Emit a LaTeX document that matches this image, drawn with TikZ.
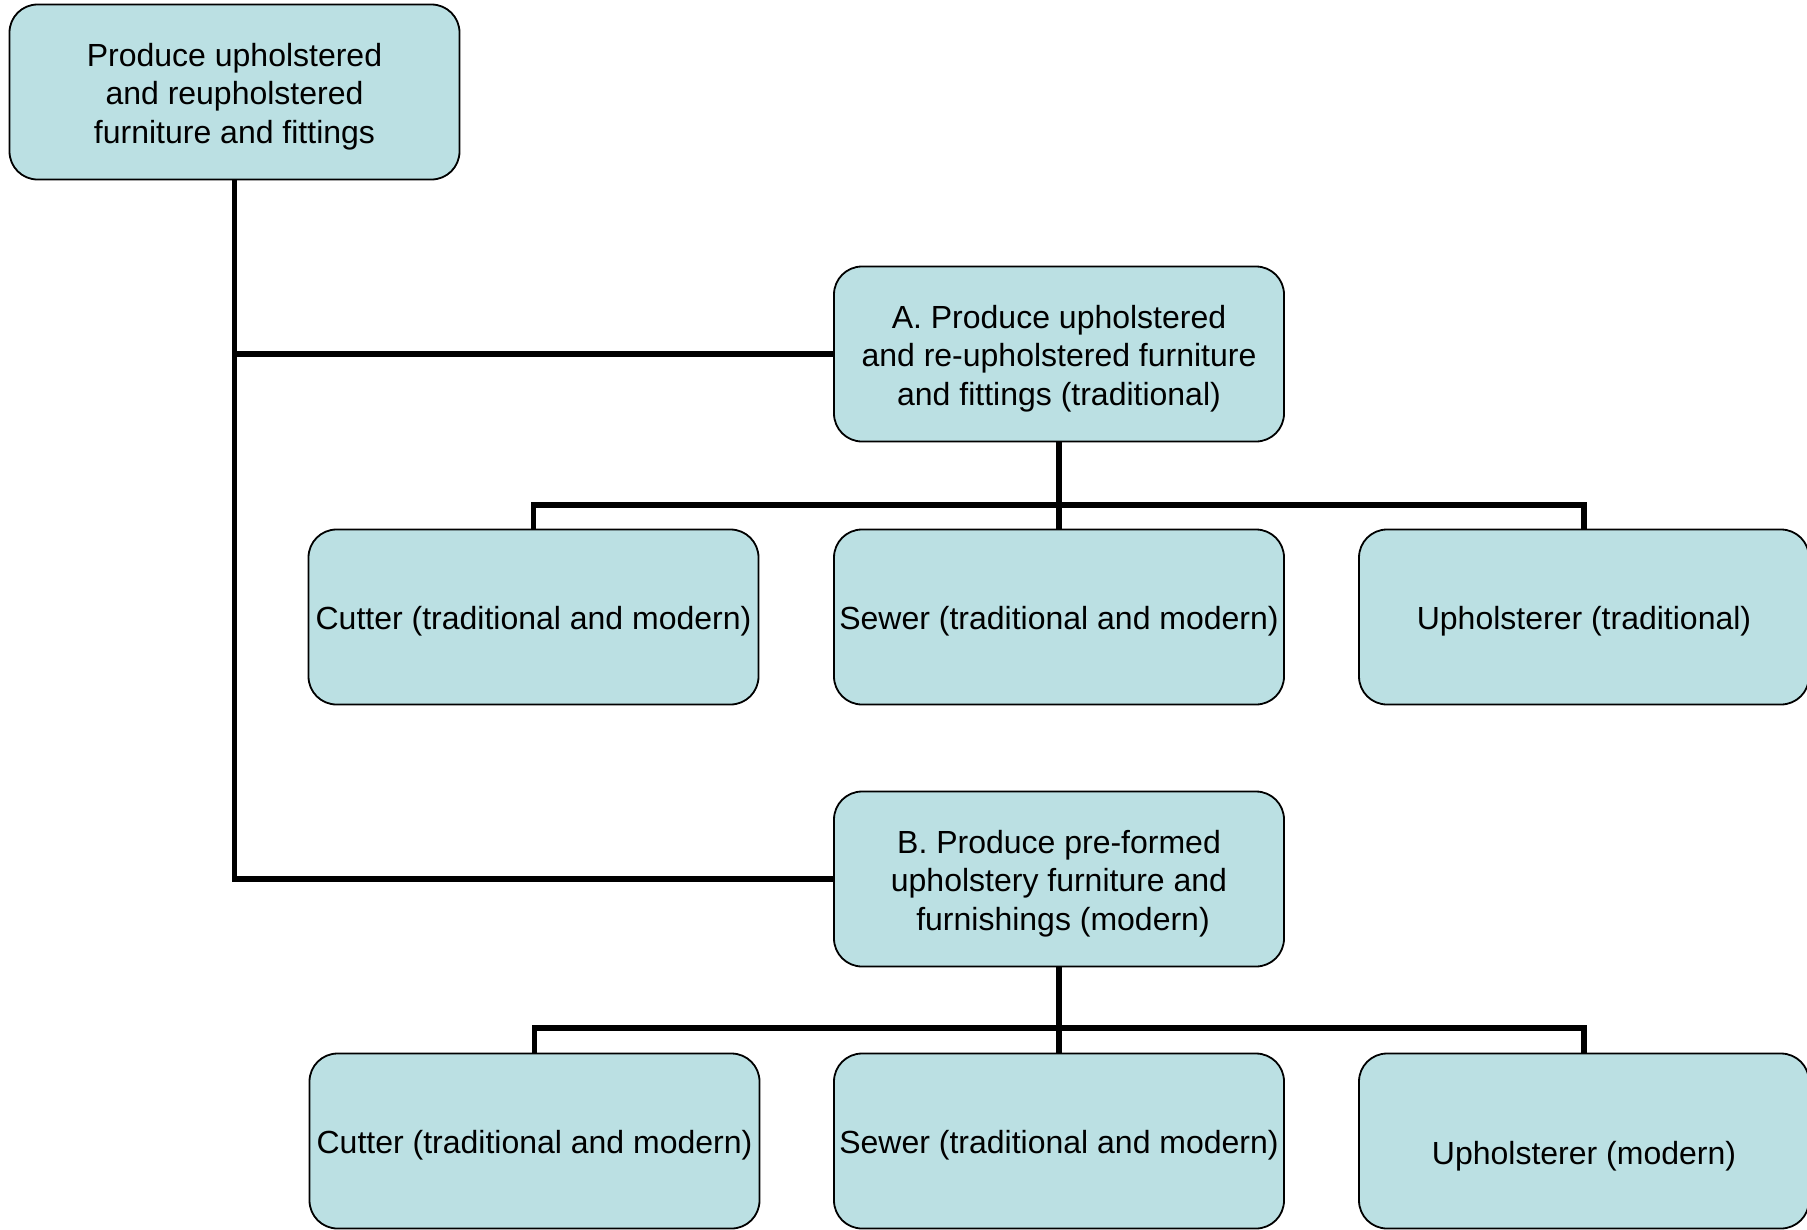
\documentclass[tikz,border=0pt]{standalone}
\usepackage{fontspec}
\setmainfont{Liberation Sans}
\definecolor{boxfill}{RGB}{187,224,227}
\begin{document}
\begin{tikzpicture}[x=1pt,y=-1pt,
  box/.style={draw=black,line width=1.8pt,fill=boxfill,rounded corners=28pt,
    minimum width=450pt,minimum height=175pt,inner sep=0pt},
  lbl/.style={align=center,inner sep=0pt,yshift=-4.5pt,
    font=\fontsize{32}{38.5}\selectfont},
  conn/.style={draw=black,line width=5.5pt}]
\useasboundingbox (0,0) rectangle (1807,1229);
\node[box,label={[lbl]center:{Produce upholstered\\and reupholstered\\furniture and fittings}}] (root) at (234.5,92) {};
\node[box,label={[lbl]center:{A. Produce upholstered\\and re-upholstered furniture\\and fittings (traditional)}}] (A) at (1059,354) {};
\node[box,label={[lbl]center:{Cutter (traditional and modern)}}] (ca) at (533.5,617) {};
\node[box,label={[lbl]center:{Sewer (traditional and modern)}}] (sa) at (1059,617) {};
\node[box,label={[lbl]center:{Upholsterer (traditional)}}] (ua) at (1584,617) {};
\node[box,label={[lbl]center:{B. Produce pre-formed\\upholstery furniture and\\\hspace*{8pt}furnishings (modern)}}] (B) at (1059,879) {};
\node[box,label={[lbl]center:{Cutter (traditional and modern)}}] (cb) at (534.5,1141) {};
\node[box,label={[lbl]center:{Sewer (traditional and modern)}}] (sb) at (1059,1141) {};
\node[box,label={[lbl,yshift=-10.5pt]center:{Upholsterer (modern)}}] (ub) at (1584,1141) {};
\coordinate (abar) at (0,505);
\coordinate (bbar) at (0,1028);
\draw[conn] (root.south) -- (root.south |- B.west) -- (B.west);
\draw[conn] (root.south |- A.west) -- (A.west);
\draw[conn] (A.south) -- (sa.north);
\draw[conn] (ca.north) -- (ca.north |- abar) -| (ua.north);
\draw[conn] (B.south) -- (sb.north);
\draw[conn] (cb.north) -- (cb.north |- bbar) -| (ub.north);
\end{tikzpicture}
\end{document}
